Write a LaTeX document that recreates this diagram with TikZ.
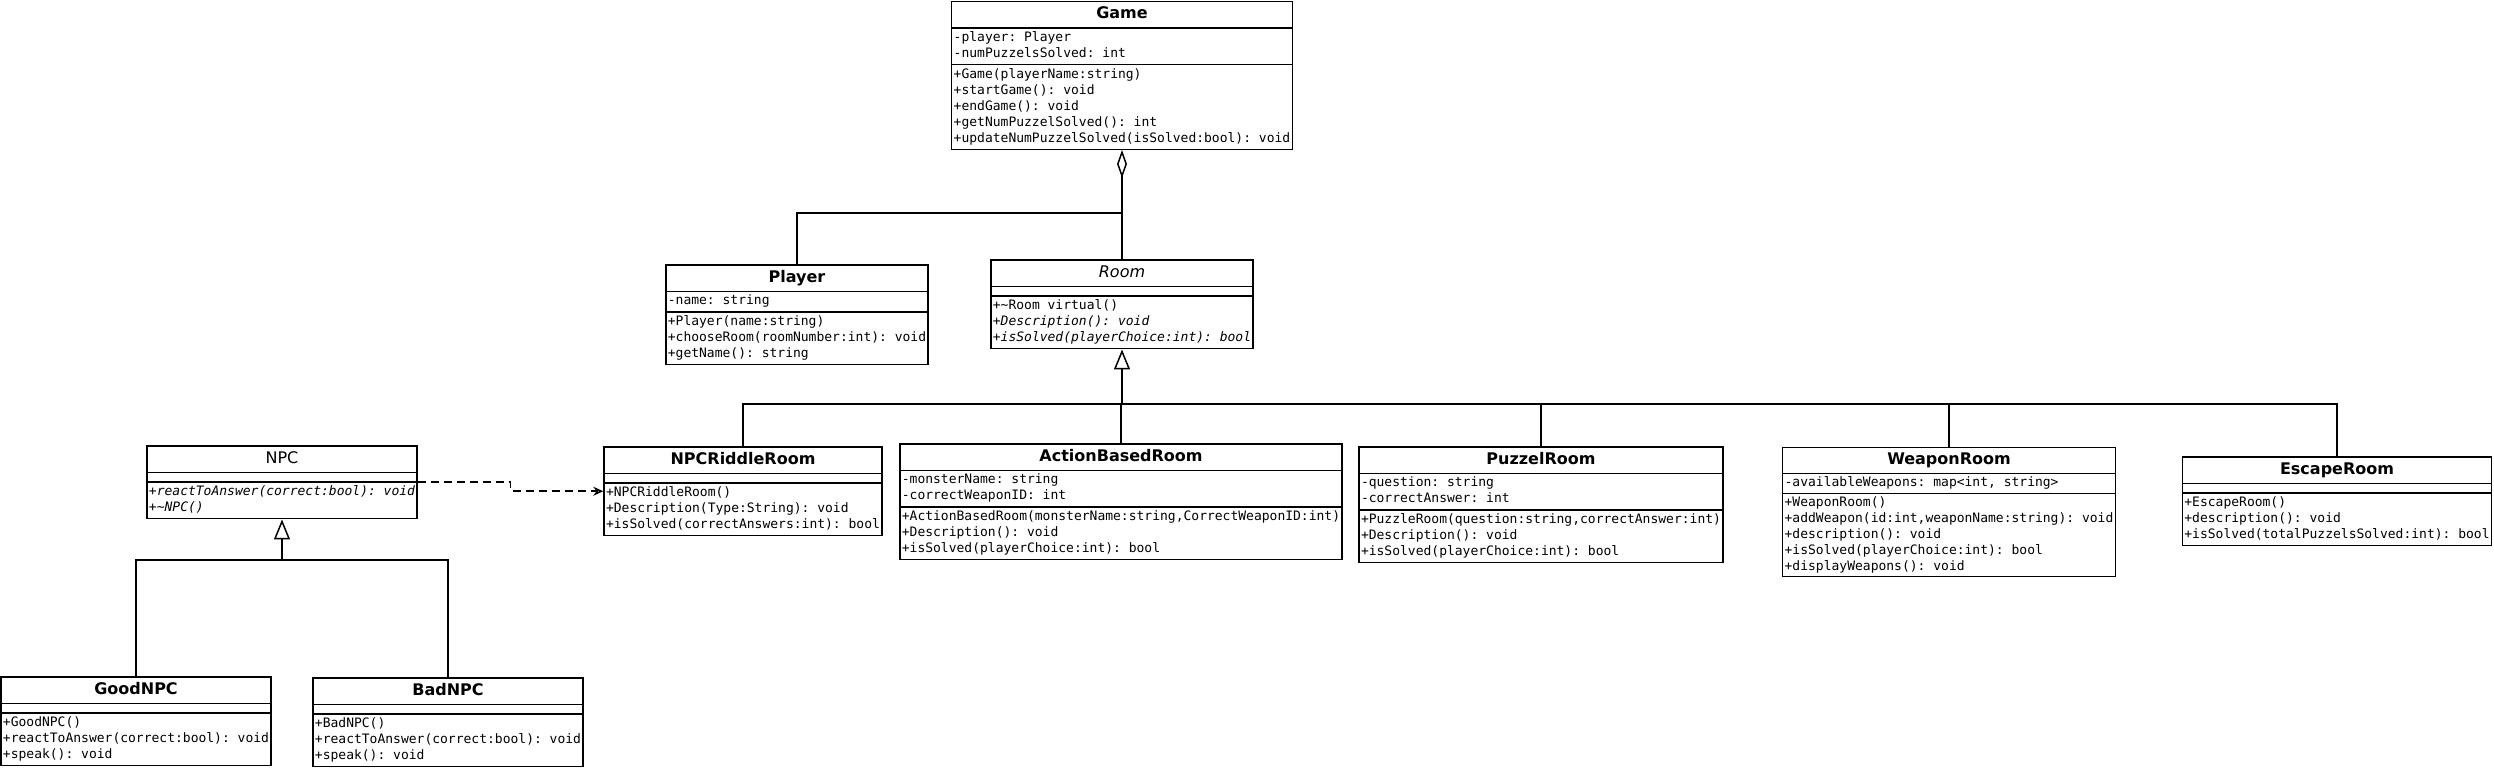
\documentclass[tikz,border=0pt]{standalone}
\usepackage{fontspec}
\setmainfont{DejaVu Sans}
\setmonofont{DejaVu Sans Mono}
\usepackage{tikz}
\usetikzlibrary{shapes.multipart,arrows.meta,calc,positioning}
\newcommand{\umltitle}[1]{\rule[-7pt]{0pt}{22pt}{\fontsize{16}{19}\selectfont #1}}
\newcommand{\umlmembers}[1]{{\ttfamily\fontsize{13}{16}\selectfont\begin{tabular}{@{}l@{}}#1\end{tabular}}}
\tikzset{
	umlclass/.style = {draw, fill=white, line width=1.5pt, rectangle split, rectangle split parts=3,
		rectangle split part align={center,left,left}, rectangle split ignore empty parts=false,
		rectangle split empty part height=4pt, inner xsep=2pt, inner ysep=1.5pt, anchor=north},
	link/.style = {line width=1.5pt},
	aggr/.style = {link, {Diamond[open,length=28pt,width=10pt]}-},
	gen/.style  = {link, {Triangle[open,length=20pt,width=16pt]}-},
	dep/.style  = {link, dash pattern=on 8pt off 5pt, -{Stealth[open,length=10pt,width=9pt]}}
}
\begin{document}
\begin{tikzpicture}[x=1pt,y=-1pt]
	\useasboundingbox (0,0) rectangle (2494,768);
	% top
	\node [umlclass] (game) at (1122,1) {\umltitle{\bfseries Game}
		\nodepart{second}\umlmembers{-player: Player\\-numPuzzelsSolved: int}
		\nodepart{third}\umlmembers{+Game(playerName:string)\\+startGame(): void\\+endGame(): void\\+getNumPuzzelSolved(): int\\+updateNumPuzzelSolved(isSolved:bool): void}};
	\node [umlclass] (player) at (797,264) {\umltitle{\bfseries Player}
		\nodepart{second}\umlmembers{-name: string}
		\nodepart{third}\umlmembers{+Player(name:string)\\+chooseRoom(roomNumber:int): void\\+getName(): string}};
	\node [umlclass] (room) at (1122,259) {\umltitle{\itshape Room}
		\nodepart{second}
		\nodepart{third}\umlmembers{+\textasciitilde Room virtual()\\\itshape +Description(): void\\\itshape +isSolved(playerChoice:int): bool}};
	% rooms
	\node [umlclass] (riddle) at (743,446) {\umltitle{\bfseries NPCRiddleRoom}
		\nodepart{second}
		\nodepart{third}\umlmembers{+NPCRiddleRoom()\\+Description(Type:String): void\\+isSolved(correctAnswers:int): bool}};
	\node [umlclass] (action) at (1121,443) {\umltitle{\bfseries ActionBasedRoom}
		\nodepart{second}\umlmembers{-monsterName: string\\-correctWeaponID: int}
		\nodepart{third}\umlmembers{+ActionBasedRoom(monsterName:string,CorrectWeaponID:int)\\+Description(): void\\+isSolved(playerChoice:int): bool}};
	\node [umlclass] (puzzel) at (1541,446) {\umltitle{\bfseries PuzzelRoom}
		\nodepart{second}\umlmembers{-question: string\\-correctAnswer: int}
		\nodepart{third}\umlmembers{+PuzzleRoom(question:string,correctAnswer:int)\\+Description(): void\\+isSolved(playerChoice:int): bool}};
	\node [umlclass, line width=0.8pt] (weapon) at (1949,447) {\umltitle{\bfseries WeaponRoom}
		\nodepart{second}\umlmembers{-availableWeapons: map<int, string>}
		\nodepart{third}\umlmembers{+WeaponRoom()\\+addWeapon(id:int,weaponName:string): void\\+description(): void\\+isSolved(playerChoice:int): bool\\+displayWeapons(): void}};
	\node [umlclass] (escape) at (2337,456) {\umltitle{\bfseries EscapeRoom}
		\nodepart{second}
		\nodepart{third}\umlmembers{+EscapeRoom()\\+description(): void\\+isSolved(totalPuzzelsSolved:int): bool}};
	% npcs
	\node [umlclass] (npc) at (282,445) {\umltitle{NPC}
		\nodepart{second}
		\nodepart{third}\umlmembers{\itshape +reactToAnswer(correct:bool): void\\\itshape +\textasciitilde NPC()}};
	\node [umlclass] (goodnpc) at (136,676) {\umltitle{\bfseries GoodNPC}
		\nodepart{second}
		\nodepart{third}\umlmembers{+GoodNPC()\\+reactToAnswer(correct:bool): void\\+speak(): void}};
	\node [umlclass] (badnpc) at (448,677) {\umltitle{\bfseries BadNPC}
		\nodepart{second}
		\nodepart{third}\umlmembers{+BadNPC()\\+reactToAnswer(correct:bool): void\\+speak(): void}};

	\coordinate (gamebar) at (1122,213);
	\coordinate (roombar) at (1122,404);
	\coordinate (npcbar) at (282,560);

	\draw [aggr] (game.south) -- (room.north);
	\draw [link] (player.north) |- (gamebar);
	\draw [gen] (room.south) -- (roombar);
	\foreach \c in {riddle,action,puzzel,weapon,escape}
		\draw [link] (\c.north) |- (roombar);
	\draw [gen] (npc.south) -- (npcbar);
	\foreach \c in {goodnpc,badnpc}
		\draw [link] (\c.north) |- (npcbar);
	\draw [dep] (npc.two split east) -| ($(npc.two split east)!.5!(riddle.west)$) |- (riddle.west);
\end{tikzpicture}
\end{document}
